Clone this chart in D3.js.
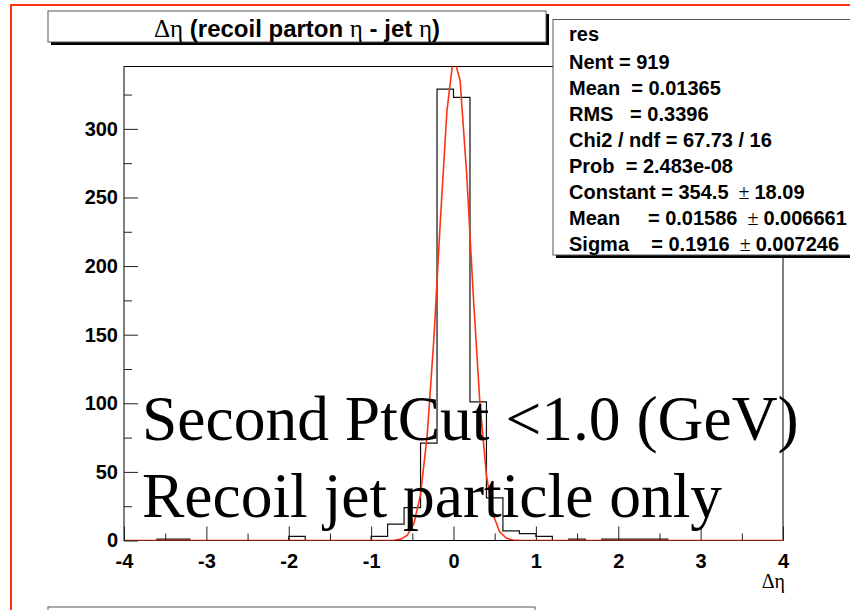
<!DOCTYPE html>
<html>
<head>
<meta charset="utf-8">
<script src="https://cdn.jsdelivr.net/npm/d3@7"></script>
<style>
  body { margin: 0; background: #fff; }
  svg { display: block; }
</style>
</head>
<body>
<div id="chart"></div>
<script>
// DATA
const X_MIN = -4;
const X_MAX = 4;
// counts per 0.2 wide bin, from -4 to 4
const BIN_COUNTS = [0, 0, 1, 1, 0, 0, 0, 0, 0, 0,
                    3, 0, 0, 0, 0, 3, 12, 24, 71, 329,
                    323, 101, 31, 7, 5, 3, 0, 1, 0, 1,
                    1, 1, 1, 0, 0, 0, 0, 0, 0, 0];
const X_TICKS = [-4, -3, -2, -1, 0, 1, 2, 3, 4];
const X_MINOR = [-3.5, -2.5, -1.5, -0.5, 0.5, 1.5, 2.5, 3.5];
const Y_TICKS = [0, 50, 100, 150, 200, 250, 300];
const Y_MINOR = [25, 75, 125, 175, 225, 275, 325];
// gaussian fit result shown in the stats box
const FIT_CONSTANT = 354.5;
const FIT_MEAN = 0.01586;
const FIT_SIGMA = 0.1916;

const TITLE_PARTS = [["Δη", true], [" (recoil parton ", false], ["η", true],
                     [" - jet ", false], ["η", true], [")", false]];
const STATS_LINES = ["res",
                     "Nent = 919",
                     "Mean  = 0.01365",
                     "RMS   = 0.3396",
                     "Chi2 / ndf = 67.73 / 16",
                     "Prob  = 2.483e-08",
                     "Constant = 354.5 ± 18.09",
                     "Mean     = 0.01586 ± 0.006661",
                     "Sigma    = 0.1916 ± 0.007246"];
const NOTE_LINES = ["Second PtCut <1.0 (GeV)", "Recoil jet particle only"];
const X_TITLE = "Δη";

// LAYOUT
const WIDTH = 850, HEIGHT = 610;
const FRAME = {left: 124, right: 783, top: 66.5, bottom: 540.5};
const RED = "#ff3311";
const SANS = "'Liberation Sans', Arial, Helvetica, sans-serif";
const SERIF = "'Liberation Serif', 'Times New Roman', serif";

const svg = d3.select("#chart")
  .append("svg")
    .attr("width", WIDTH)
    .attr("height", HEIGHT);

// canvas border
svg.append("rect")
  .attr("x", 11).attr("y", 5)
  .attr("width", 900).attr("height", 700)
  .attr("fill", "none")
  .attr("stroke", RED)
  .attr("stroke-width", 2);

const binW = (X_MAX - X_MIN) / BIN_COUNTS.length;

const X_SCALE = d3.scaleLinear()
  .domain([X_MIN, X_MAX])
  .range([FRAME.left, FRAME.right]);

const Y_SCALE = d3.scaleLinear()
  .domain([0, d3.max(BIN_COUNTS) * 1.05])
  .range([FRAME.bottom, FRAME.top]);

svg.append("clipPath").attr("id", "frameClip")
  .append("rect")
    .attr("x", FRAME.left).attr("y", FRAME.top)
    .attr("width", FRAME.right - FRAME.left)
    .attr("height", FRAME.bottom - FRAME.top);

// frame
svg.append("rect")
  .attr("x", FRAME.left).attr("y", FRAME.top)
  .attr("width", FRAME.right - FRAME.left)
  .attr("height", FRAME.bottom - FRAME.top)
  .attr("fill", "none")
  .attr("stroke", "#000")
  .attr("stroke-width", 1);

// histogram outline
const histPts = BIN_COUNTS.map((c, i) => [X_MIN + i * binW, c]);
histPts.push([X_MAX, BIN_COUNTS[BIN_COUNTS.length - 1]]);

svg.append("path")
  .datum(histPts)
  .attr("fill", "none")
  .attr("stroke", "#111")
  .attr("stroke-width", 1.2)
  .attr("d", d3.line()
      .x((d) => X_SCALE(d[0]))
      .y((d) => Y_SCALE(d[1]))
      .curve(d3.curveStepAfter));

// gaussian fit curve
const fitPts = d3.range(101).map((i) => {
  const x = X_MIN + i * (X_MAX - X_MIN) / 100;
  return [x, FIT_CONSTANT * Math.exp(-0.5 * Math.pow((x - FIT_MEAN) / FIT_SIGMA, 2))];
});

svg.append("path")
  .datum(fitPts)
  .attr("clip-path", "url(#frameClip)")
  .attr("fill", "none")
  .attr("stroke", RED)
  .attr("stroke-width", 1.6)
  .attr("d", d3.line()
      .x((d) => X_SCALE(d[0]))
      .y((d) => Y_SCALE(d[1])));

// X AXIS
const xAxis = svg.append("g")
  .attr("transform", "translate(0," + FRAME.bottom + ")")
  .call(d3.axisBottom(X_SCALE).tickValues(X_TICKS).tickSize(-14).tickPadding(13)
        .tickFormat((d) => String(d)));
svg.append("g")
  .attr("transform", "translate(0," + FRAME.bottom + ")")
  .call(d3.axisBottom(X_SCALE).tickValues(X_MINOR).tickSize(-7).tickFormat(""))
  .call((g) => g.select(".domain").remove());

// Y AXIS
const yAxis = svg.append("g")
  .attr("transform", "translate(" + FRAME.left + ",0)")
  .call(d3.axisLeft(Y_SCALE).tickValues(Y_TICKS).tickSize(-14).tickPadding(6)
        .tickFormat((d) => String(d)));
svg.append("g")
  .attr("transform", "translate(" + FRAME.left + ",0)")
  .call(d3.axisLeft(Y_SCALE).tickValues(Y_MINOR).tickSize(-8).tickFormat(""))
  .call((g) => g.select(".domain").remove());

[xAxis, yAxis].forEach((g) => {
  g.select(".domain").remove();
  g.selectAll("text")
    .attr("font-family", SANS)
    .attr("font-weight", "bold")
    .attr("font-size", "20px")
    .attr("fill", "#000");
});
svg.selectAll(".tick line").attr("stroke", "#222");

// x axis title
svg.append("text")
  .attr("x", FRAME.right + 2).attr("y", 588)
  .attr("text-anchor", "end")
  .attr("font-family", SERIF)
  .attr("font-size", "20px")
  .text(X_TITLE);

// TITLE BOX
const TB = {x: 48, y: 11, w: 498, h: 31};
svg.append("rect")
  .attr("x", TB.x + 3).attr("y", TB.y + 3)
  .attr("width", TB.w).attr("height", TB.h)
  .attr("fill", "#000");
svg.append("rect")
  .attr("x", TB.x).attr("y", TB.y)
  .attr("width", TB.w).attr("height", TB.h)
  .attr("fill", "#fff")
  .attr("stroke", "#555");

const title = svg.append("text")
  .attr("x", TB.x + TB.w / 2).attr("y", 36.5)
  .attr("text-anchor", "middle")
  .attr("font-family", SANS)
  .attr("font-weight", "bold")
  .attr("font-size", "24px")
  .style("white-space", "pre");
title.selectAll("tspan")
  .data(TITLE_PARTS)
  .enter()
  .append("tspan")
    .attr("font-family", (d) => d[1] ? SERIF : SANS)
    .attr("font-weight", (d) => d[1] ? "normal" : "bold")
    .attr("font-size", (d) => d[1] ? "25px" : "24px")
    .text((d) => d[0]);

// STATS BOX
const SB = {x: 553, y: 19.5, w: 320, h: 235.5};
svg.append("rect")
  .attr("x", SB.x + 3).attr("y", SB.y + 3)
  .attr("width", SB.w).attr("height", SB.h)
  .attr("fill", "#000");
svg.append("rect")
  .attr("x", SB.x).attr("y", SB.y)
  .attr("width", SB.w).attr("height", SB.h)
  .attr("fill", "#fff")
  .attr("stroke", "#555");

STATS_LINES.forEach((line, i) => {
  const t = svg.append("text")
    .attr("x", 569)
    .attr("y", (i === 0 ? 41 : 42.5 + 26.1 * i))
    .attr("font-family", SANS)
    .attr("font-weight", "bold")
    .attr("font-size", "20px")
    .style("white-space", "pre");
  line.split(" ± ").forEach((part, j) => {
    if (j > 0) {
      t.append("tspan")
        .attr("font-family", SERIF)
        .attr("font-weight", "normal")
        .text("  ± ");
    }
    t.append("tspan").text(part);
  });
});

// NOTE TEXT
svg.selectAll(".note")
  .data(NOTE_LINES)
  .enter()
  .append("text")
    .attr("class", "note")
    .attr("x", 142)
    .attr("y", (d, i) => 439.5 + i * 77)
    .attr("font-family", SERIF)
    .attr("font-size", "63.5px")
    .attr("fill", "#000")
    .text((d) => d);

// bottom box, cut off by the page edge
svg.append("rect")
  .attr("x", 48).attr("y", 607)
  .attr("width", 487).attr("height", 30)
  .attr("fill", "#fff")
  .attr("stroke", "#555");
</script>
</body>
</html>
